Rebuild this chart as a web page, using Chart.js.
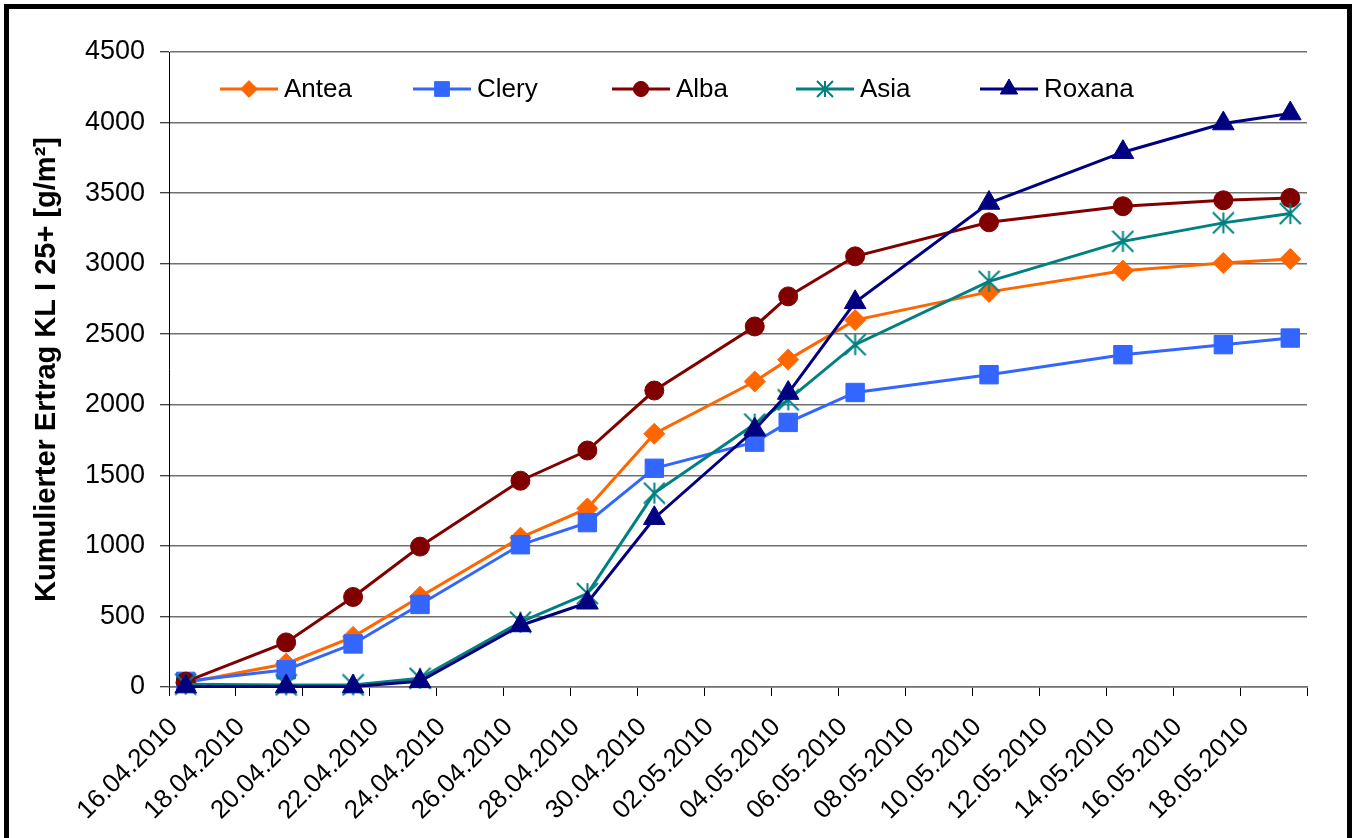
<!DOCTYPE html>
<html>
<head>
<meta charset="utf-8">
<title>Kumulierter Ertrag KL I 25+</title>
<script src="https://cdn.jsdelivr.net/npm/chart.js@4.4.1/dist/chart.umd.min.js"></script>
<style>
  html, body { margin: 0; padding: 0; background: #fff; overflow: hidden; }
  #wrap { position: relative; width: 1357px; height: 838px; }
  #rahmen { position: absolute; left: 4px; top: 4px; width: 1348px; height: 900px;
            border: 5px solid #000; box-sizing: border-box; pointer-events: none; }
</style>
</head>
<body>
<div id="wrap">
  <canvas id="chartErtrag"></canvas>
  <div id="rahmen"></div>
</div>
<script>
// Erntetermine
const termine = ['16.04.2010', '19.04.2010', '21.04.2010', '23.04.2010', '26.04.2010',
                 '28.04.2010', '30.04.2010', '03.05.2010', '04.05.2010', '06.05.2010',
                 '10.05.2010', '14.05.2010', '17.05.2010', '19.05.2010'];

// kumulierter Ertrag je Sorte [g/m²]
const antea  = [30, 165, 355, 640, 1058, 1265, 1795, 2165, 2320, 2600, 2800, 2950, 3005, 3033];
const clery  = [40, 122, 305, 585, 1008, 1165, 1550, 1735, 1875, 2087, 2213, 2355, 2426, 2473];
const alba   = [38, 316, 638, 995, 1462, 1676, 2101, 2555, 2768, 3052, 3293, 3407, 3449, 3466];
const asia   = [20, 15, 15, 62, 460, 662, 1374, 1863, 2035, 2426, 2875, 3158, 3289, 3355];
const roxana = [3, 3, 3, 40, 436, 597, 1196, 1823, 2083, 2726, 3430, 3790, 3993, 4064];

// Achsen
const achseStart = '16.04.2010';
const achseTage = 34;
const yMax = 4500;
const yStep = 500;

const MS_TAG = 86400000;

function zuUtc(datum) {
  const [d, m, y] = datum.split('.').map(Number);
  return Date.UTC(y, m - 1, d);
}

function tagNr(datum) {
  return (zuUtc(datum) - zuUtc(achseStart)) / MS_TAG;
}

function datumText(tag) {
  const dt = new Date(zuUtc(achseStart) + tag * MS_TAG);
  const zwei = n => String(n).padStart(2, '0');
  return zwei(dt.getUTCDate()) + '.' + zwei(dt.getUTCMonth() + 1) + '.' + dt.getUTCFullYear();
}

// Excel setzt die Punkte in die Mitte des Tages
function punkte(werte) {
  return termine.map((t, i) => ({ x: tagNr(t) + 0.5, y: werte[i] }));
}

// Sternchen-Marker (wie Excel "*")
function sternBild(groesse, farbe) {
  const c = document.createElement('canvas');
  c.width = groesse;
  c.height = groesse;
  const g = c.getContext('2d');
  const m = groesse / 2;
  const r = groesse / 2 - 1;
  g.strokeStyle = farbe;
  g.lineWidth = 2;
  g.beginPath();
  g.moveTo(m, m - r); g.lineTo(m, m + r);
  g.moveTo(m - r, m - r); g.lineTo(m + r, m + r);
  g.moveTo(m + r, m - r); g.lineTo(m - r, m + r);
  g.stroke();
  return c;
}

Chart.defaults.font.family = '"Liberation Sans", Arial, sans-serif';
Chart.defaults.color = '#000';

function serie(label, werte, farbe, stil, radius, reihenfolge) {
  return {
    label: label,
    data: punkte(werte),
    borderColor: farbe,
    backgroundColor: farbe,
    borderWidth: 3,
    pointStyle: stil,
    pointRadius: radius,
    pointHoverRadius: radius,
    pointBackgroundColor: farbe,
    pointBorderColor: farbe,
    pointBorderWidth: 1,
    tension: 0,
    fill: false,
    clip: false,
    order: reihenfolge
  };
}

const datasets = [
  serie('Antea', antea, '#FF6600', 'rectRot', 10.5, 4),
  serie('Clery', clery, '#3366FF', 'rect', 13, 3),
  serie('Alba', alba, '#800000', 'circle', 9.5, 2),
  serie('Asia', asia, '#008080', sternBild(23, '#008080'), 11, 1),
  serie('Roxana', roxana, '#000080', 'triangle', 12.5, 0)
];
datasets[3].legendenStil = sternBild(18, '#008080');

// Legende innerhalb der Zeichenfläche, wie im Original
const legendeX = [220, 413, 612, 796, 980];
const legendeImDiagramm = {
  id: 'legendeImDiagramm',
  afterDatasetsDraw(chart) {
    const ctx = chart.ctx;
    const y = 89;
    ctx.save();
    ctx.font = '26px "Liberation Sans", Arial, sans-serif';
    ctx.textBaseline = 'middle';
    chart.data.datasets.forEach((ds, i) => {
      const x = legendeX[i];
      ctx.strokeStyle = ds.borderColor;
      ctx.lineWidth = 3;
      ctx.beginPath();
      ctx.moveTo(x, y);
      ctx.lineTo(x + 58, y);
      ctx.stroke();
      ctx.fillStyle = ds.pointBackgroundColor;
      ctx.strokeStyle = ds.pointBorderColor;
      ctx.lineWidth = 1;
      Chart.helpers.drawPoint(ctx, {
        pointStyle: ds.legendenStil || ds.pointStyle,
        radius: ds.pointRadius * 0.8,
        rotation: 0,
        borderWidth: 1
      }, x + 29, y);
      ctx.fillStyle = '#000';
      ctx.fillText(ds.label, x + 64, y + 1);
    });
    ctx.restore();
  }
};

const chartErtrag = document.getElementById('chartErtrag');

new Chart(chartErtrag, {
  type: 'line',
  data: { datasets: datasets },
  plugins: [legendeImDiagramm],
  options: {
    responsive: true,
    maintainAspectRatio: false,
    animation: false,
    layout: { padding: { top: 52, right: 50, left: 0, bottom: 0 } },
    plugins: {
      legend: { display: false },
      tooltip: { enabled: false }
    },
    scales: {
      x: {
        type: 'linear',
        min: 0,
        max: achseTage,
        afterFit: scale => { scale.height = 151; },
        grid: {
          drawOnChartArea: false,
          drawTicks: true,
          tickLength: 9,
          tickColor: '#000',
          tickWidth: 1
        },
        border: { color: '#707070', width: 1.5 },
        ticks: {
          stepSize: 2,
          autoSkip: false,
          maxRotation: 45,
          minRotation: 45,
          padding: 16,
          labelOffset: 5,
          font: { size: 26 },
          callback: v => (v >= achseTage ? '' : datumText(v))
        }
      },
      y: {
        min: 0,
        max: yMax,
        afterFit: scale => { scale.width = 169; },
        grid: {
          color: '#707070',
          lineWidth: 1.5,
          tickLength: 9,
          tickColor: '#000',
          tickWidth: 1
        },
        border: { color: '#000', width: 1 },
        ticks: {
          stepSize: yStep,
          padding: 15,
          font: { size: 27 },
          callback: v => String(v)
        },
        title: {
          display: true,
          text: 'Kumulierter Ertrag KL I 25+ [g/m²]',
          font: { size: 29, weight: 'bold' },
          padding: { top: 30, bottom: 0 }
        }
      }
    }
  }
});
</script>
</body>
</html>
